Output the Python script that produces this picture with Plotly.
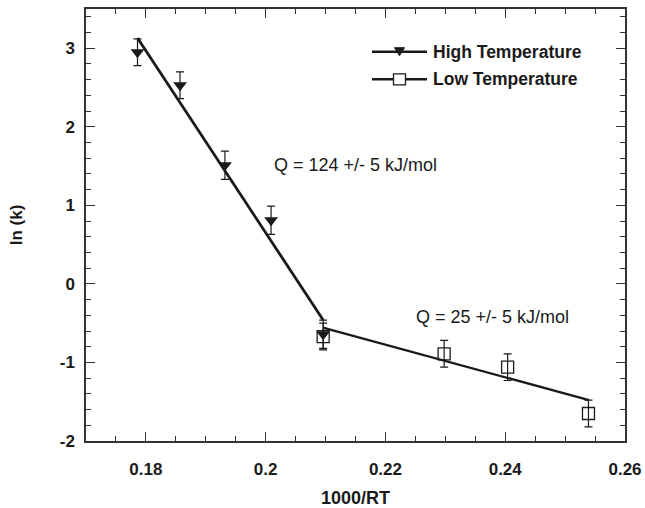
import plotly.graph_objects as go

# High temperature data
high_x = [0.1786, 0.1857, 0.1932, 0.2009, 0.2096]
high_y = [2.95, 2.53, 1.51, 0.81, -0.64]
high_err = [0.17, 0.17, 0.18, 0.18, 0.18]

# Low temperature data
low_x = [0.2096, 0.2298, 0.2404, 0.2539]
low_y = [-0.67, -0.89, -1.06, -1.65]
low_err = [0.17, 0.17, 0.17, 0.17]

# Fit lines
high_fit_x = [0.1786, 0.2096]
high_fit_y = [3.13, -0.46]
low_fit_x = [0.2097, 0.2540]
low_fit_y = [-0.56, -1.48]

x_ticks = [0.18, 0.2, 0.22, 0.24, 0.26]
x_ticklabels = ["0.18", "0.2", "0.22", "0.24", "0.26"]
y_ticks = [-2, -1, 0, 1, 2, 3]
y_ticklabels = ["-2", "-1", "0", "1", "2", "3"]

legend_names = ["High Temperature", "Low Temperature"]
annot_texts = ["Q = 124 +/- 5 kJ/mol", "Q = 25 +/- 5 kJ/mol"]
annot_x = [0.2010, 0.2247]
annot_y = [1.514, -0.421]

FONT = "Liberation Sans, Arial, Helvetica, sans-serif"
BLACK = "#1a1a1a"
W, H = 645, 508
ML, MR, MT, MB = 86, 20, 9, 67
PW, PH = W - ML - MR, H - MT - MB


def px(xp):
    return (xp - ML) / PW


def py(yp):
    return 1 - (yp - MT) / PH


fig = go.Figure()

fig.add_trace(go.Scatter(x=high_fit_x, y=high_fit_y, mode="lines",
                         line=dict(color=BLACK, width=2.8), showlegend=False, hoverinfo="skip"))
fig.add_trace(go.Scatter(x=low_fit_x, y=low_fit_y, mode="lines",
                         line=dict(color=BLACK, width=2.4), showlegend=False, hoverinfo="skip"))

fig.add_trace(go.Scatter(x=low_x, y=low_y, mode="markers", name=legend_names[1],
                         marker=dict(symbol="square-open", size=12, color=BLACK, line=dict(width=1.3)),
                         error_y=dict(type="data", array=low_err, color=BLACK, thickness=1.2, width=4),
                         showlegend=False))
fig.add_trace(go.Scatter(x=high_x, y=high_y, mode="markers", name=legend_names[0],
                         marker=dict(symbol="triangle-down", size=12, color=BLACK),
                         error_y=dict(type="data", array=high_err, color=BLACK, thickness=1.2, width=4),
                         showlegend=False))

for t, x, y in zip(annot_texts, annot_x, annot_y):
    fig.add_annotation(x=x, y=y, text=t, showarrow=False, xanchor="left", yanchor="middle",
                       font=dict(family=FONT, size=18, color=BLACK))

# Custom legend (line sample with marker, then text)
rows = [51.7, 79.3]
lx0, lx1, mx = 372, 427, 399.5
shapes = []
for i, yc in enumerate(rows):
    shapes.append(dict(type="line", xref="paper", yref="paper", x0=px(lx0), x1=px(lx1),
                       y0=py(yc), y1=py(yc), line=dict(color=BLACK, width=2.4)))
    fig.add_annotation(xref="paper", yref="paper", x=px(431), y=py(yc), text=legend_names[i],
                       showarrow=False, xanchor="left", yanchor="middle",
                       font=dict(family=FONT, size=17.5, color=BLACK, weight="bold"))
# triangle marker
tri = "M {:.5f} {:.5f} L {:.5f} {:.5f} L {:.5f} {:.5f} Z".format(
    px(mx - 5), py(rows[0] - 4), px(mx + 5), py(rows[0] - 4), px(mx), py(rows[0] + 4))
shapes.append(dict(type="path", xref="paper", yref="paper", path=tri,
                   fillcolor=BLACK, line=dict(color=BLACK, width=1)))
shapes.append(dict(type="rect", xref="paper", yref="paper",
                   x0=px(mx - 6), x1=px(mx + 6), y0=py(rows[1] - 5.5), y1=py(rows[1] + 5.5),
                   fillcolor="white", line=dict(color=BLACK, width=1.3)))
fig.update_layout(shapes=shapes)

axis_common = dict(
    showgrid=False, zeroline=False, showline=True, linecolor="#333333", linewidth=1.5,
    mirror="ticks", ticks="inside", ticklen=9, tickwidth=1.3, tickcolor="#333333",
    automargin=False,
    tickfont=dict(family=FONT, size=17, color=BLACK, weight="bold"),
)

fig.update_xaxes(range=[0.17, 0.26], tickmode="array", tickvals=x_ticks, ticktext=x_ticklabels,
                 minor=dict(dtick=0.005, ticks="inside", ticklen=5, tickcolor="#333333", tickwidth=1),
                 title=dict(text="1000/RT", font=dict(family=FONT, size=18, color=BLACK, weight="bold"), standoff=14),
                 ticklabelstandoff=12,
                 **axis_common)
fig.update_yaxes(range=[-2, 3.5], tickmode="array", tickvals=y_ticks, ticktext=y_ticklabels,
                 minor=dict(dtick=0.2, ticks="inside", ticklen=5, tickcolor="#333333", tickwidth=1),
                 title=dict(text="ln (k)", font=dict(family=FONT, size=17, color=BLACK, weight="bold"), standoff=33),
                 ticklabelstandoff=6,
                 **axis_common)

fig.update_layout(
    width=W, height=H,
    margin=dict(l=ML, r=MR, t=MT, b=MB),
    plot_bgcolor="white", paper_bgcolor="white",
    showlegend=False,
    font=dict(family=FONT, color=BLACK),
)

fig.write_html("out.html", config={"displayModeBar": False},
               post_script="document.body.style.margin='0';document.body.style.overflow='hidden';")
